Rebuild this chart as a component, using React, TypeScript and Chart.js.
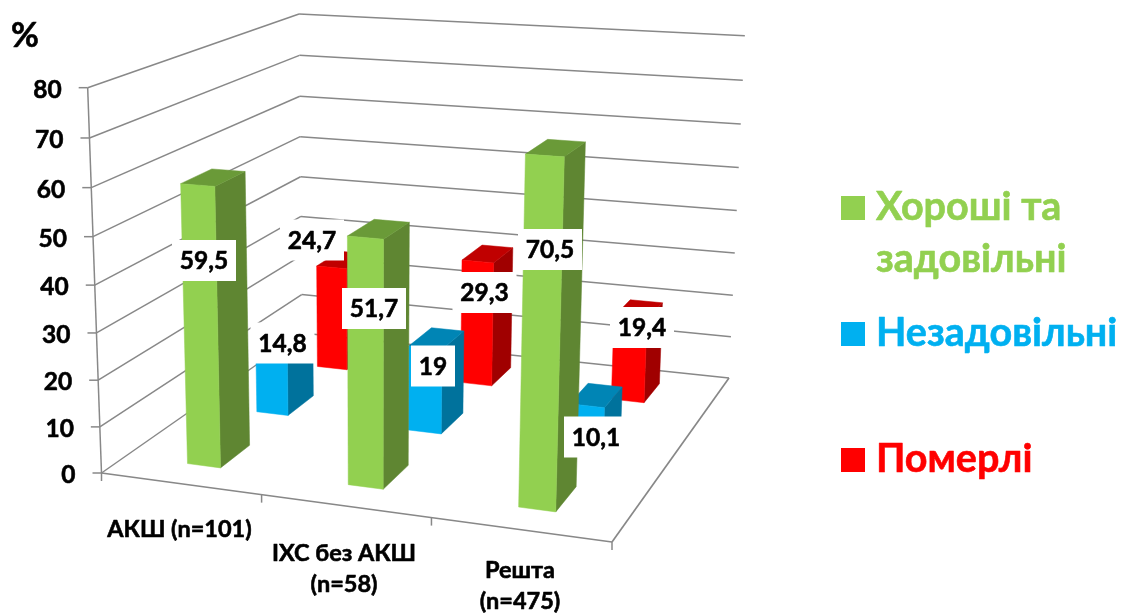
import React, { useEffect, useRef } from "react";
import { Chart, registerables } from "chart.js";

Chart.register(...registerables);

const categories = [["АКШ (n=101)"], ["ІХС без АКШ", "(n=58)"], ["Решта", "(n=475)"]];
const seriesNames = [["Хороші та", "задовільні"], ["Незадовільні"], ["Померлі"]];
const goodValues = [59.5, 51.7, 70.5];
const poorValues = [14.8, 19, 10.1];
const deadValues = [24.7, 29.3, 19.4];
const frontColors = ["#92D050", "#00B0F0", "#FF0000"];
const sideColors = ["#5F8632", "#00729C", "#A00000"];
const topColors = ["#6A9A38", "#0085B5", "#C00000"];

const FONT = '"Lato", "Noto Sans", sans-serif';
const GRID = "#888888";
const BAR_HALF_U = 0.035;
const BAR_HALF_V = 0.069;
const ROW_SHIFT_V = 0.007;

// Corners of the plot cube as seen on the page.
type Pt = [number, number];
const floorFrontLeft: Pt = [101.5, 473];
const floorFrontRight: Pt = [612, 542];
const floorBackRight: Pt = [729, 378];
const floorBackLeft: Pt = [302, 333];
const topFrontLeft: Pt = [85, 85];
const topBackLeft: Pt = [302, 15];
const topBackRight: Pt = [744, 37];

// Centre of the white value box for each [series][category].
const valueBoxCenters: Pt[][] = [
  [[204, 260.5], [374, 308.5], [550, 249.5]],
  [[282.5, 343], [433, 366], [596, 437]],
  [[312, 240], [484.5, 292.5], [642, 327.5]],
];
const categoryLabelAnchors: Pt[] = [[179.5, 529], [344, 553], [520, 570]];
const legendRows = [220, 346, 472];

// Perspective camera: floor homography plus a height column fitted by least squares.
function buildProjection() {
  const [x0, y0] = floorFrontLeft;
  const [x1, y1] = floorFrontRight;
  const [x2, y2] = floorBackRight;
  const [x3, y3] = floorBackLeft;
  const dx1 = x1 - x2, dx2 = x3 - x2, sx = x0 - x1 + x2 - x3;
  const dy1 = y1 - y2, dy2 = y3 - y2, sy = y0 - y1 + y2 - y3;
  const den = dx1 * dy2 - dx2 * dy1;
  const g = (sx * dy2 - dx2 * sy) / den;
  const h = (dx1 * sy - sx * dy1) / den;
  const a = x1 - x0 + g * x1, b = x3 - x0 + h * x3, c = x0;
  const d = y1 - y0 + g * y1, e = y3 - y0 + h * y3, f = y0;

  const uprights: [number, number, Pt][] = [
    [0, 0, topFrontLeft],
    [0, 1, topBackLeft],
    [1, 1, topBackRight],
  ];
  const rows: number[][] = [];
  for (const [u, v, [x, y]] of uprights) {
    const z0 = g * u + h * v + 1;
    rows.push([1, 0, -x, x * z0 - (a * u + b * v + c)]);
    rows.push([0, 1, -y, y * z0 - (d * u + e * v + f)]);
  }
  const M = [0, 1, 2].map((i) =>
    [0, 1, 2, 3].map((j) => rows.reduce((s, r) => s + r[i] * r[j], 0)),
  );
  for (let i = 0; i < 3; i++) {
    const pivot = M[i][i];
    for (let j = i; j < 4; j++) M[i][j] /= pivot;
    for (let k = 0; k < 3; k++) {
      if (k === i) continue;
      const m = M[k][i];
      for (let j = i; j < 4; j++) M[k][j] -= m * M[i][j];
    }
  }
  const [hx, hy, hz] = [M[0][3], M[1][3], M[2][3]];
  return (u: number, v: number, t: number): Pt => {
    const w = g * u + h * v + hz * t + 1;
    return [(a * u + b * v + hx * t + c) / w, (d * u + e * v + hy * t + f) / w];
  };
}
const project = buildProjection();

function polygon(ctx: CanvasRenderingContext2D, pts: Pt[], fill: string) {
  ctx.beginPath();
  pts.forEach(([x, y], i) => (i ? ctx.lineTo(x, y) : ctx.moveTo(x, y)));
  ctx.closePath();
  ctx.fillStyle = fill;
  ctx.fill();
  ctx.strokeStyle = fill;
  ctx.lineWidth = 0.5;
  ctx.stroke();
}

function segment(ctx: CanvasRenderingContext2D, a: Pt, b: Pt, width = 1.5) {
  ctx.beginPath();
  ctx.moveTo(a[0], a[1]);
  ctx.lineTo(b[0], b[1]);
  ctx.strokeStyle = GRID;
  ctx.lineWidth = width;
  ctx.stroke();
}

// Bold text with a hairline outline for extra weight.
function heavyText(ctx: CanvasRenderingContext2D, text: string, x: number, y: number, color: string) {
  ctx.fillStyle = color;
  ctx.strokeStyle = color;
  ctx.lineWidth = 0.6;
  ctx.lineJoin = "round";
  ctx.fillText(text, x, y);
  ctx.strokeText(text, x, y);
}

const cubePlugin = {
  id: "cube",
  // The flat bars are replaced by projected boxes built from the same scales.
  beforeDatasetsDraw(chart: any) {
    const { ctx } = chart;
    const xs = chart.scales.x;
    const ys = chart.scales.y;
    const heightOf = (value: number) => ys.getDecimalForPixel(ys.getPixelForValue(value));
    ctx.save();

    // Walls and their gridlines
    for (const tick of ys.ticks) {
      const t = heightOf(tick.value);
      const front = project(0, 0, t);
      const backL = project(0, 1, t);
      const backR = project(1, 1, t);
      segment(ctx, front, backL);
      segment(ctx, backL, backR);
      segment(ctx, [front[0] - 9, front[1]], front);
      ctx.font = `bold 24.5px ${FONT}`;
      ctx.textAlign = "right";
      ctx.textBaseline = "middle";
      heavyText(ctx, String(tick.value), front[0] - 26, front[1] + 2, "#000");
    }
    segment(ctx, project(0, 0, 0), project(0, 0, 1));

    // Floor outline and category tick marks
    segment(ctx, floorFrontLeft, floorFrontRight, 1.7);
    segment(ctx, floorFrontRight, floorBackRight, 1.7);
    for (let i = 0; i <= xs.ticks.length; i++) {
      const p = project(i / xs.ticks.length, 0, 0);
      segment(ctx, p, [p[0], p[1] + 8]);
    }

    // Boxes, back row first
    const rowCount = chart.data.datasets.length;
    for (let s = rowCount - 1; s >= 0; s--) {
      const v = (s + 0.5) / rowCount + ROW_SHIFT_V;
      const values = chart.data.datasets[s].data;
      values.forEach((value: number, i: number) => {
        const u = xs.getDecimalForPixel(xs.getPixelForValue(i));
        const t = heightOf(value);
        const u0 = u - BAR_HALF_U, u1 = u + BAR_HALF_U;
        const v0 = v - BAR_HALF_V, v1 = v + BAR_HALF_V;
        polygon(ctx, [project(u1, v0, 0), project(u1, v1, 0), project(u1, v1, t), project(u1, v0, t)], sideColors[s]);
        polygon(ctx, [project(u0, v0, t), project(u1, v0, t), project(u1, v1, t), project(u0, v1, t)], topColors[s]);
        polygon(ctx, [project(u0, v0, 0), project(u1, v0, 0), project(u1, v0, t), project(u0, v0, t)], frontColors[s]);
      });
    }

    // Value boxes
    ctx.textAlign = "center";
    ctx.textBaseline = "middle";
    ctx.font = `bold 24.5px ${FONT}`;
    chart.data.datasets.forEach((ds: any, s: number) => {
      ds.data.forEach((value: number, i: number) => {
        const text = String(value).replace(".", ",");
        const [cx, cy] = valueBoxCenters[s][i];
        const w = text.length > 2 ? 64 : 44;
        ctx.fillStyle = "#FFFFFF";
        ctx.fillRect(cx - w / 2, cy - 20.5, w, 41);
        heavyText(ctx, text, cx, cy + 1, "#000");
      });
    });

    // Category labels
    ctx.font = `bold 23.5px ${FONT}`;
    xs.getLabels().forEach((lines: string[], i: number) => {
      const [cx, cy] = categoryLabelAnchors[i];
      lines.forEach((line, n) => heavyText(ctx, line, cx, cy + n * 31, "#000"));
    });

    // Unit
    ctx.font = `bold 34px ${FONT}`;
    ctx.textBaseline = "alphabetic";
    heavyText(ctx, "%", 25, 47, "#000");

    // Series key
    ctx.textAlign = "left";
    ctx.font = `bold 39.5px ${FONT}`;
    chart.data.datasets.forEach((ds: any, s: number) => {
      const base = legendRows[s];
      ctx.fillStyle = ds.backgroundColor;
      ctx.fillRect(841, base - 24, 24, 24);
      ds.label.forEach((line: string, n: number) => heavyText(ctx, line, 876, base + n * 52, ds.backgroundColor));
    });

    ctx.restore();
    return false;
  },
};

export default function App() {
  const ref = useRef<HTMLCanvasElement>(null);
  useEffect(() => {
    const chart = new Chart(ref.current!, {
      type: "bar",
      data: {
        labels: categories as any,
        datasets: [goodValues, poorValues, deadValues].map((data, s) => ({
          label: seriesNames[s] as any,
          data,
          backgroundColor: frontColors[s],
        })),
      },
      options: {
        responsive: false,
        animation: false,
        plugins: { legend: { display: false }, tooltip: { enabled: false } },
        scales: {
          x: { display: false },
          y: { display: false, min: 0, max: 80, ticks: { stepSize: 10 } },
        },
      },
      plugins: [cubePlugin],
    });
    return () => chart.destroy();
  }, []);
  return (
    <canvas
      ref={ref}
      width={1121}
      height={613}
      style={{ position: "fixed", left: 0, top: 0, display: "block" }}
    />
  );
}
